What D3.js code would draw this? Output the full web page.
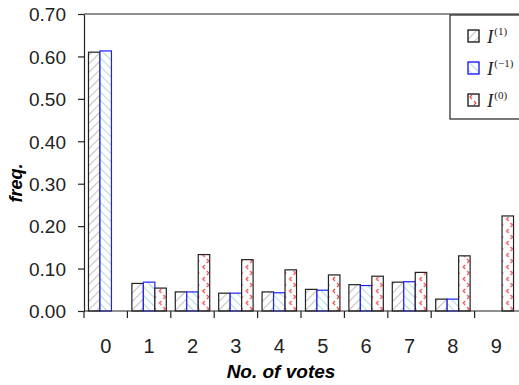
<!DOCTYPE html>
<html>
<head>
<meta charset="utf-8">
<script src="https://cdn.jsdelivr.net/npm/d3@7"></script>
<style>
body { margin: 0; background: #fff; }
svg { display: block; }
.tick text { font-family: "Liberation Sans", Arial, sans-serif; fill: #222; }
</style>
</head>
<body>
<div class="draw"></div>
<script>
// data
var votes = ["0", "1", "2", "3", "4", "5", "6", "7", "8", "9"];
var seriesNames = ["I1", "Im1", "I0"];
var valI1  = [0.610, 0.065, 0.045, 0.042, 0.045, 0.051, 0.062, 0.068, 0.028, 0];
var valIm1 = [0.613, 0.068, 0.045, 0.042, 0.043, 0.049, 0.060, 0.069, 0.028, 0];
var valI0  = [0,     0.054, 0.133, 0.121, 0.097, 0.085, 0.082, 0.091, 0.130, 0.224];
var yTicks = [0, 0.1, 0.2, 0.3, 0.4, 0.5, 0.6, 0.7];
var legendSups = ["(1)", "(\u22121)", "(0)"];

var W = 519, H = 385;
// plot box (note: "top" is taken by window.top, so use pl/pr/pt/pb)
var pl = 84, pr = 518, pt = 14, pb = 311;

var svg = d3.select("div.draw").append("svg")
    .attr("width", W)
    .attr("height", H);

/*---- patterns ----*/
var defs = svg.append("defs");
var p1 = defs.append("pattern").attr("id", "hatchGray")
    .attr("patternUnits", "userSpaceOnUse").attr("width", 6).attr("height", 6)
    .attr("patternTransform", "rotate(45)");
p1.append("rect").attr("width", 6).attr("height", 6).attr("fill", "#fff");
p1.append("line").attr("x1", 0).attr("y1", 0).attr("x2", 0).attr("y2", 6)
    .attr("stroke", "#c4c4c4").attr("stroke-width", 2.2);

var p2 = defs.append("pattern").attr("id", "hatchBlue")
    .attr("patternUnits", "userSpaceOnUse").attr("width", 6).attr("height", 6)
    .attr("patternTransform", "rotate(-45)");
p2.append("rect").attr("width", 6).attr("height", 6).attr("fill", "#fff");
p2.append("line").attr("x1", 0).attr("y1", 0).attr("x2", 0).attr("y2", 6)
    .attr("stroke", "#b3dede").attr("stroke-width", 2.2);

var p3 = defs.append("pattern").attr("id", "dotsRed")
    .attr("patternUnits", "userSpaceOnUse").attr("width", 10).attr("height", 12);
p3.append("rect").attr("width", 10).attr("height", 12).attr("fill", "#fff");
p3.append("path").attr("d", "M4,1 L2,3 L4,5").attr("fill", "none")
    .attr("stroke", "#f04040").attr("stroke-width", 1.1);
p3.append("path").attr("d", "M6,7 L8,9 L6,11").attr("fill", "none")
    .attr("stroke", "#f04040").attr("stroke-width", 1.1);

var fills = ["url(#hatchGray)", "url(#hatchBlue)", "url(#dotsRed)"];
var strokes = ["#222", "#2020ff", "#222"];

/*---- scales ----*/
var x = d3.scaleBand().domain(votes).range([pl, pr]).padding(0);
var xi = d3.scaleBand().domain(seriesNames).range([0, x.bandwidth()])
    .paddingInner(0).paddingOuter(0.39);
var y = d3.scaleLinear().domain([0, 0.7]).range([pb, pt]);

var rows = votes.map(function(v, i) {
  return { key: v, vals: [valI1[i], valIm1[i], valI0[i]] };
});

/*---- bars ----*/
var g = svg.append("g");
var groups = g.selectAll(".grp").data(rows).enter().append("g")
    .attr("transform", function(d) { return "translate(" + x(d.key) + ",0)"; });
groups.selectAll("rect")
    .data(function(d) { return d.vals.map(function(v, j) { return { s: j, v: v }; }).filter(function(d) { return d.v > 0; }); })
    .enter()
    .append("rect")
    .attr("x", function(d) { return xi(seriesNames[d.s]); })
    .attr("y", function(d) { return y(d.v); })
    .attr("width", xi.bandwidth())
    .attr("height", function(d) { return y(0) - y(d.v); })
    .attr("fill", function(d) { return fills[d.s]; })
    .attr("stroke", function(d) { return strokes[d.s]; })
    .attr("stroke-width", 1.2);

/*---- axes ----*/
var yAxis = svg.append("g")
    .attr("transform", "translate(" + pl + ",0)")
    .call(d3.axisLeft(y).tickValues(yTicks).tickFormat(d3.format(".2f"))
      .tickSizeInner(6).tickSizeOuter(0).tickPadding(12));
yAxis.selectAll("text").style("font-size", "19px").attr("dy", "0.36em");
yAxis.selectAll("line, path").attr("stroke", "#222").attr("stroke-width", 1.2);

// x axis: ticks sit on the boundaries between groups
var xAxis = svg.append("g").attr("transform", "translate(0," + pb + ")");
xAxis.append("line").attr("x1", pl).attr("x2", W).attr("y1", 0).attr("y2", 0)
    .attr("stroke", "#222").attr("stroke-width", 1.2);
xAxis.selectAll(".xt").data(votes).enter().append("line")
    .attr("x1", function(d) { return x(d); }).attr("x2", function(d) { return x(d); })
    .attr("y1", 0).attr("y2", 7)
    .attr("stroke", "#222").attr("stroke-width", 1.2);
xAxis.selectAll(".xl").data(votes).enter().append("text")
    .attr("x", function(d) { return x(d) + x.bandwidth() / 2; })
    .attr("y", 42)
    .attr("text-anchor", "middle")
    .style("font-family", "'Liberation Sans', Arial, sans-serif")
    .style("font-size", "20px")
    .style("fill", "#222")
    .text(function(d) { return d; });

// top frame line
svg.append("line").attr("x1", pl).attr("x2", W).attr("y1", pt).attr("y2", pt)
    .attr("stroke", "#222").attr("stroke-width", 1.2);

/*---- titles ----*/
svg.append("text")
    .attr("x", 281).attr("y", 378)
    .attr("text-anchor", "middle")
    .style("font-family", "'Liberation Sans', Arial, sans-serif")
    .style("font-size", "19px").style("font-weight", "bold").style("font-style", "italic")
    .text("No. of votes");

svg.append("text")
    .attr("transform", "translate(22,183) rotate(-90)")
    .attr("text-anchor", "middle")
    .style("font-family", "'Liberation Sans', Arial, sans-serif")
    .style("font-size", "18px").style("font-weight", "bold").style("font-style", "italic")
    .text("freq.");

/*---- legend ----*/
var lg = svg.append("g");
lg.append("rect").attr("x", 450).attr("y", 15).attr("width", 80).attr("height", 104)
    .attr("fill", "#fff").attr("stroke", "#222").attr("stroke-width", 1.2);
var items = lg.selectAll(".it").data(seriesNames).enter().append("g")
    .attr("transform", function(d, i) { return "translate(468," + (30 + i * 32) + ")"; });
items.append("rect").attr("width", 11).attr("height", 12)
    .attr("fill", function(d, i) { return fills[i]; })
    .attr("stroke", function(d, i) { return strokes[i]; })
    .attr("stroke-width", 1.4);
var lt = items.append("text").attr("x", 19).attr("y", 13)
    .style("font-family", "'Liberation Serif', 'Times New Roman', serif")
    .style("font-size", "19px").style("fill", "#222");
lt.append("tspan").style("font-style", "italic").text("I");
lt.append("tspan").attr("dy", -8).attr("dx", 1).style("font-size", "11px")
    .text(function(d, i) { return legendSups[i]; });
</script>
</body>
</html>
